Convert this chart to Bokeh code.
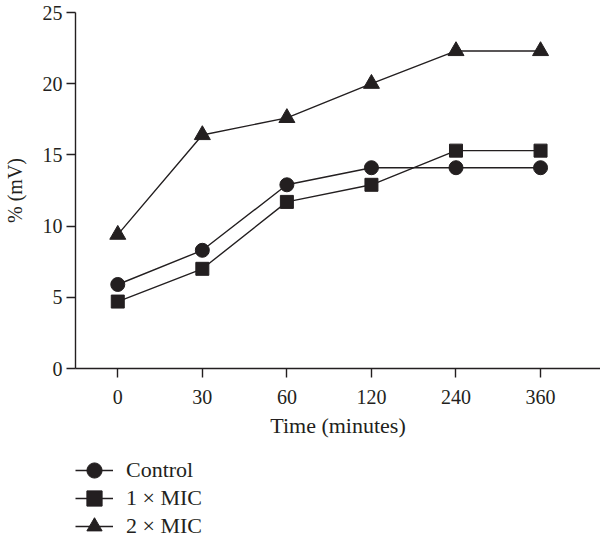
from bokeh.plotting import figure
from bokeh.models import Range1d, FixedTicker, Legend, LegendItem
from bokeh.layouts import column
from bokeh.embed import file_html
from bokeh.resources import INLINE

time_labels = ["0", "30", "60", "120", "240", "360"]
x_pos = [0, 1, 2, 3, 4, 5]
control = [5.9, 8.3, 12.9, 14.1, 14.1, 14.1]
mic1 = [4.7, 7.0, 11.7, 12.9, 15.3, 15.3]
mic2 = [9.4, 16.4, 17.6, 20.0, 22.3, 22.3]
y_ticks = [0, 5, 10, 15, 20, 25]
series_names = ["Control", "1 \u00d7 MIC", "2 \u00d7 MIC"]
series_markers = ["circle", "square", "triangle"]
series_values = [control, mic1, mic2]

INK = "#231f20"
FONT = "Liberation Serif"
SIZES = {"circle": 14, "square": 13, "triangle": 16}

p = figure(width=600, height=448, output_backend="svg", toolbar_location=None,
           x_range=Range1d(-0.5, 5.709), y_range=Range1d(0, 25),
           min_border_left=75, min_border_right=0, min_border_top=12,
           min_border_bottom=80)
p.outline_line_color = None
p.grid.visible = False

for vals, mk in zip(series_values, series_markers):
    p.line(x_pos, vals, line_color=INK, line_width=1.4)
    p.scatter(x_pos, vals, marker=mk, size=SIZES[mk], fill_color=INK, line_color=INK)

for ax in (p.xaxis[0], p.yaxis[0]):
    ax.axis_line_color = INK
    ax.axis_line_width = 1.4
    ax.major_tick_line_color = INK
    ax.major_tick_line_width = 1.4
    ax.major_tick_in = 0
    ax.minor_tick_line_color = None
    ax.major_label_text_font = FONT
    ax.major_label_text_font_size = "20px"
    ax.major_label_text_color = INK
    ax.axis_label_text_font = FONT
    ax.axis_label_text_font_style = "normal"
    ax.axis_label_text_color = INK

p.xaxis.ticker = FixedTicker(ticks=x_pos)
p.xaxis.major_label_overrides = {i: t for i, t in zip(x_pos, time_labels)}
p.xaxis.major_tick_out = 9
p.xaxis.major_label_standoff = 12
p.xaxis.axis_label = "Time (minutes)"
p.xaxis.axis_label_text_font_size = "22px"
p.xaxis.axis_label_standoff = 6

p.yaxis.ticker = FixedTicker(ticks=y_ticks)
p.yaxis.major_tick_out = 9
p.yaxis.major_label_standoff = 4
p.yaxis.axis_label = "% (mV)"
p.yaxis.axis_label_text_font_size = "20px"
p.yaxis.axis_label_standoff = 14

# legend-only figure below the chart (dummy renderers lie outside its ranges)
q = figure(width=600, height=93, output_backend="svg", toolbar_location=None,
           x_range=Range1d(0, 1), y_range=Range1d(0, 1),
           min_border=0)
q.axis.visible = False
q.grid.visible = False
q.outline_line_color = None
row_bottoms = [52, 24, -4]
for name, mk, yb in zip(series_names, series_markers, row_bottoms):
    rl = q.line([-5, -4], [-5, -5], line_color=INK, line_width=1.4)
    rs = q.scatter([-5], [-5], marker=mk, size=SIZES[mk], fill_color=INK, line_color=INK)
    lg = Legend(items=[LegendItem(label=name, renderers=[rl, rs])], location=(0, yb))
    lg.glyph_width = 38
    lg.glyph_height = 38
    lg.padding = 0
    lg.margin = 0
    lg.label_standoff = 13
    lg.label_text_font = FONT
    lg.label_text_font_size = "22px"
    lg.label_text_color = INK
    lg.border_line_color = None
    lg.background_fill_alpha = 0
    q.add_layout(lg, "center")

layout = column(p, q, spacing=0)
open("out.html", "w").write(file_html(layout, INLINE))
